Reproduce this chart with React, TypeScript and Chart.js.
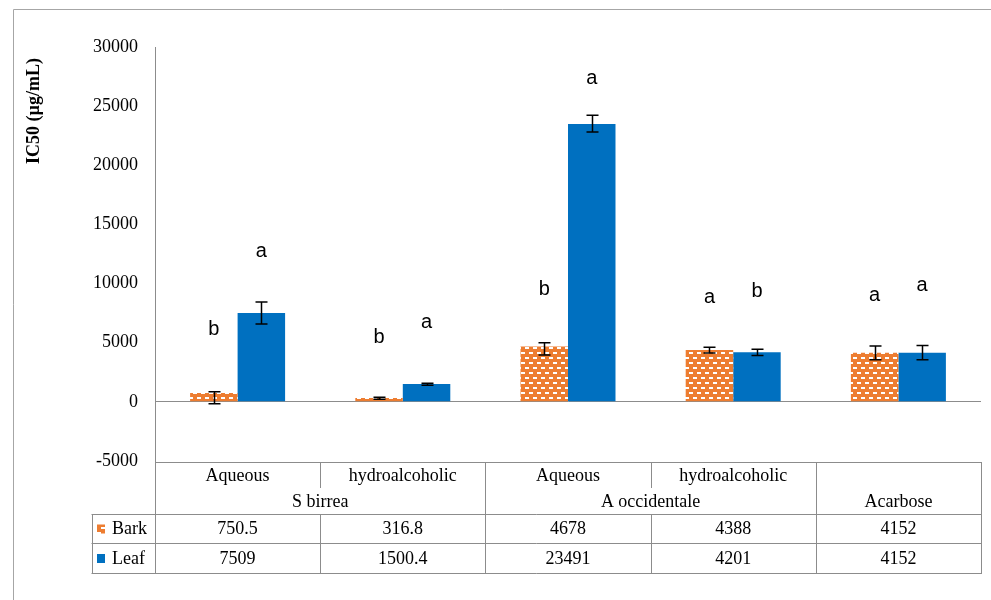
import React, { useEffect, useRef } from "react";
import { Chart, registerables } from "chart.js";
Chart.register(...registerables);

const subCategories = ["Aqueous", "hydroalcoholic", "Aqueous", "hydroalcoholic", ""];
const groupLabels = ["S birrea", "A occidentale", "Acarbose"];
const groupSpans = [2, 2, 1];
const seriesNames = ["Bark", "Leaf"];
const barkValues = [750.5, 316.8, 4678, 4388, 4152];
const leafValues = [7509, 1500.4, 23491, 4201, 4152];
const barkTableText = ["750.5", "316.8", "4678", "4388", "4152"];
const leafTableText = ["7509", "1500.4", "23491", "4201", "4152"];
const barkErrHigh = [850, 400, 5000, 4620, 4730];
const barkErrLow = [-170, 230, 3970, 4120, 3550];
const leafErrHigh = [8450, 1580, 24230, 4450, 4760];
const leafErrLow = [6590, 1410, 22820, 3910, 3550];
const barkLetters = ["b", "b", "b", "a", "a"];
const leafLetters = ["a", "a", "a", "b", "a"];
const barkLetterY = [6085, 5410, 9465, 8790, 8960];
const leafLetterY = [12680, 6680, 27380, 9300, 9800];
const yMin = -5000;
const yMax = 30000;
const yStep = 5000;
const yTitle = "IC50 (µg/mL)";

const ORANGE = "#ED7D31";
const BLUE = "#0070C0";
const GRAY = "#8C8C8C";
const SERIF = "'Liberation Serif', 'Times New Roman', serif";
const SANS = "'Liberation Sans', Arial, sans-serif";

function makePattern(ctx: CanvasRenderingContext2D): CanvasPattern | string {
  const c = document.createElement("canvas");
  c.width = 8;
  c.height = 10;
  const p = c.getContext("2d");
  if (!p) return ORANGE;
  p.fillStyle = ORANGE;
  p.fillRect(0, 0, 8, 10);
  p.fillStyle = "#FFFFFF";
  p.fillRect(1, 2, 4, 2);
  p.fillRect(5, 7, 4, 2);
  p.fillRect(-3, 7, 4, 2);
  return ctx.createPattern(c, "repeat") || ORANGE;
}

export default function App() {
  const ref = useRef<HTMLCanvasElement>(null);

  useEffect(() => {
    const canvas = ref.current;
    if (!canvas) return;
    const ctx0 = canvas.getContext("2d") as CanvasRenderingContext2D;
    const pattern = makePattern(ctx0);

    const overlay = {
      id: "overlay",
      afterDatasetsDraw(chart: any) {
        const ctx = chart.ctx as CanvasRenderingContext2D;
        const ys = chart.scales.y;
        const sets: [number[], number[], string[], number[]][] = [
          [barkErrHigh, barkErrLow, barkLetters, barkLetterY],
          [leafErrHigh, leafErrLow, leafLetters, leafLetterY],
        ];
        ctx.save();
        sets.forEach(([hi, lo, lets, ly], d) => {
          const meta = chart.getDatasetMeta(d);
          meta.data.forEach((bar: any, i: number) => {
            const x = Math.round(bar.x) + 0.5;
            const yt = ys.getPixelForValue(hi[i]);
            const yb = ys.getPixelForValue(lo[i]);
            ctx.strokeStyle = "#000";
            ctx.lineWidth = 1.5;
            ctx.beginPath();
            ctx.moveTo(x, yt);
            ctx.lineTo(x, yb);
            ctx.moveTo(x - 6, yt);
            ctx.lineTo(x + 6, yt);
            ctx.moveTo(x - 6, yb);
            ctx.lineTo(x + 6, yb);
            ctx.stroke();
            ctx.fillStyle = "#000";
            ctx.font = `20px ${SANS}`;
            ctx.textAlign = "center";
            ctx.textBaseline = "middle";
            ctx.fillText(lets[i], bar.x, ys.getPixelForValue(ly[i]));
          });
        });
        ctx.restore();
      },
      afterDraw(chart: any) {
        const ctx = chart.ctx as CanvasRenderingContext2D;
        const area = chart.chartArea;
        const xs = chart.scales.x;
        const n = subCategories.length;
        const w = area.width / n;
        const L = area.left;
        const R = area.right;
        const top = area.bottom;
        const r1 = top + 1;
        const rMid = top + 27;
        const r2 = top + 53;
        const r3 = top + 82;
        const r4 = top + 112;
        const legLeft = 91.5;
        ctx.save();
        ctx.strokeStyle = GRAY;
        ctx.lineWidth = 1;
        const hl = (x1: number, x2: number, y: number) => {
          ctx.beginPath();
          ctx.moveTo(x1, Math.round(y) + 0.5);
          ctx.lineTo(x2, Math.round(y) + 0.5);
          ctx.stroke();
        };
        const vl = (x: number, y1: number, y2: number) => {
          ctx.beginPath();
          ctx.moveTo(Math.round(x) + 0.5, y1);
          ctx.lineTo(Math.round(x) + 0.5, y2);
          ctx.stroke();
        };
        hl(L, R, r1);
        hl(legLeft, R, r2);
        hl(legLeft, R, r3);
        hl(legLeft, R, r4);
        vl(legLeft, r2, r4 + 1);
        vl(L, top, r4 + 1);
        let idx = 0;
        const groupBounds: number[] = [];
        groupSpans.forEach((s) => {
          idx += s;
          groupBounds.push(idx);
        });
        for (let i = 1; i <= n; i++) {
          const x = L + i * w;
          if (groupBounds.includes(i)) {
            vl(x, r1, r4 + 1);
          } else {
            vl(x, r1, rMid);
            vl(x, r2, r4 + 1);
          }
        }
        ctx.fillStyle = "#000";
        ctx.font = `18px ${SERIF}`;
        ctx.textAlign = "center";
        ctx.textBaseline = "middle";
        for (let i = 0; i < n; i++) {
          const cx = xs.getPixelForValue(i);
          ctx.fillText(subCategories[i], cx, (r1 + rMid) / 2 + 1);
          ctx.fillText(barkTableText[i], cx, (r2 + r3) / 2 + 1);
          ctx.fillText(leafTableText[i], cx, (r3 + r4) / 2 + 1);
        }
        let start = 0;
        groupLabels.forEach((g, gi) => {
          const s = groupSpans[gi];
          const cx = L + (start + s / 2) * w;
          ctx.fillText(g, cx, (rMid + r2) / 2 + 1);
          start += s;
        });
        const keyX = 97;
        const keys = [pattern, BLUE];
        const rows = [(r2 + r3) / 2, (r3 + r4) / 2];
        seriesNames.forEach((nm, k) => {
          ctx.fillStyle = keys[k] as any;
          ctx.fillRect(keyX, rows[k] - 4, 8, 9);
          ctx.fillStyle = "#000";
          ctx.textAlign = "left";
          ctx.fillText(nm, 112, rows[k] + 1);
        });
        ctx.save();
        ctx.translate(34, 111);
        ctx.rotate(-Math.PI / 2);
        ctx.font = `bold 18px ${SERIF}`;
        ctx.textAlign = "center";
        ctx.textBaseline = "middle";
        ctx.fillStyle = "#000";
        ctx.fillText(yTitle, 0, 0);
        ctx.restore();
        ctx.strokeStyle = "#A6A6A6";
        ctx.beginPath();
        ctx.moveTo(13.5, 600);
        ctx.lineTo(13.5, 9.5);
        ctx.lineTo(991, 9.5);
        ctx.stroke();
        ctx.restore();
      },
    };

    const chart = new Chart(canvas, {
      type: "bar",
      data: {
        labels: subCategories.map((s, i) => s || `c${i}`),
        datasets: [
          {
            label: seriesNames[0],
            data: barkValues,
            backgroundColor: pattern as any,
            borderWidth: 0,
          },
          {
            label: seriesNames[1],
            data: leafValues,
            backgroundColor: BLUE,
            borderWidth: 0,
          },
        ],
      },
      options: {
        responsive: false,
        animation: false,
        devicePixelRatio: 1,
        layout: { padding: { top: 47, left: 13, right: 10, bottom: 139 } },
        plugins: { legend: { display: false }, tooltip: { enabled: false }, title: { display: false } },
        datasets: { bar: { barPercentage: 1, categoryPercentage: 0.575 } },
        scales: {
          x: { display: false },
          y: {
            min: yMin,
            max: yMax,
            ticks: {
              stepSize: yStep,
              padding: 17,
              color: "#000",
              font: { family: SERIF, size: 18 },
              callback: (v: any) => String(v),
            },
            grid: {
              drawTicks: false,
              color: (c: any) => (c.tick && c.tick.value === 0 ? GRAY : "rgba(0,0,0,0)"),
              lineWidth: 1,
            },
            border: { display: true, color: GRAY },
            afterFit: (s: any) => {
              s.width = 142;
            },
          },
        },
      },
      plugins: [overlay],
    } as any);
    return () => chart.destroy();
  }, []);

  return (
    <div style={{ position: "absolute", left: 0, top: 0, width: 991, height: 600, background: "#fff" }}>
      <canvas ref={ref} width={991} height={600} style={{ width: 991, height: 600 }} />
    </div>
  );
}
